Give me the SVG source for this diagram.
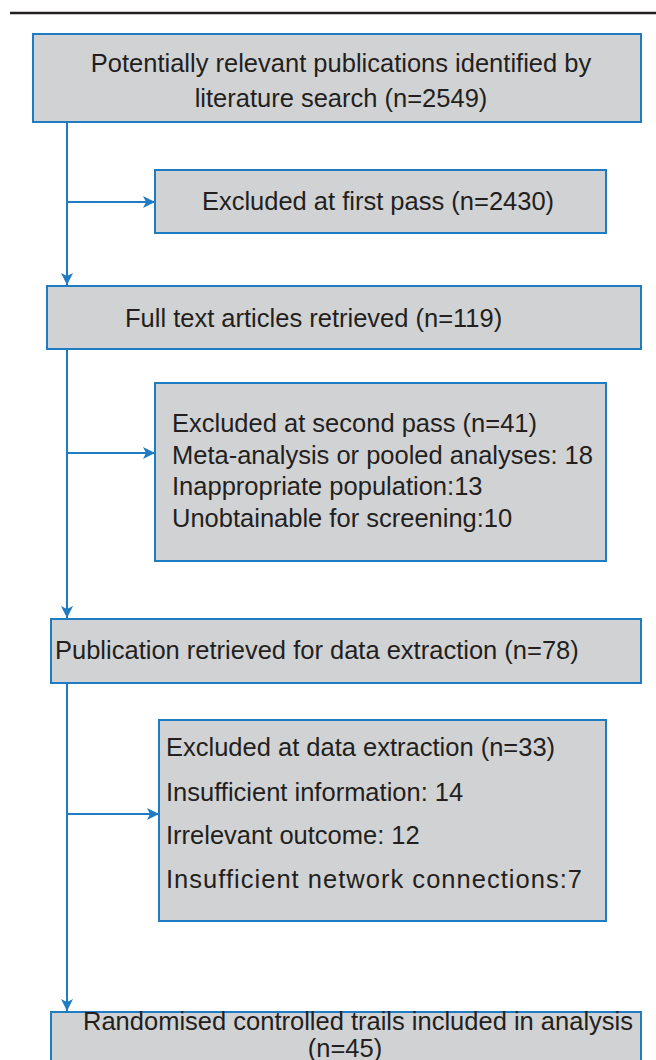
<svg xmlns="http://www.w3.org/2000/svg" width="656" height="1060" viewBox="0 0 656 1060">
<defs>
<style>
.box{fill:#d1d2d4;stroke:#1f7bc2;stroke-width:2}
.t{font-family:"Liberation Sans",Arial,sans-serif;font-size:25.5px;fill:#231f20}
.c{stroke:#1f7bc2;stroke-width:2;fill:none}
</style>
<marker id="ah" viewBox="0 0 12 12" refX="12" refY="6" markerWidth="12" markerHeight="12" markerUnits="userSpaceOnUse" orient="auto">
<path d="M0,0 L12,6 L0,12 L3,6 Z" fill="#1f7bc2"/>
</marker>
</defs>
<rect width="656" height="1060" fill="#ffffff"/>
<line x1="10" y1="13" x2="656" y2="13" stroke="#231f20" stroke-width="2.5"/>
<g id="connectors">
<line class="c" x1="67" y1="122" x2="67" y2="285" marker-end="url(#ah)"/>
<line class="c" x1="67" y1="202" x2="155" y2="202" marker-end="url(#ah)"/>
<line class="c" x1="67" y1="350" x2="67" y2="618" marker-end="url(#ah)"/>
<line class="c" x1="67" y1="453" x2="155" y2="453" marker-end="url(#ah)"/>
<line class="c" x1="67" y1="683" x2="67" y2="1011" marker-end="url(#ah)"/>
<line class="c" x1="67" y1="814" x2="159" y2="814" marker-end="url(#ah)"/>
</g>
<g id="n1">
<rect class="box" x="33" y="34" width="608" height="88"/>
<text class="t" x="341" y="72" text-anchor="middle">Potentially relevant publications identified by</text>
<text class="t" x="341" y="107" text-anchor="middle">literature search (n=2549)</text>
</g>
<g id="n2">
<rect class="box" x="155" y="170" width="451" height="63"/>
<text class="t" x="378" y="210" text-anchor="middle">Excluded at first pass (n=2430)</text>
</g>
<g id="n3">
<rect class="box" x="47" y="286" width="594" height="63"/>
<text class="t" x="125" y="327">Full text articles retrieved (n=119)</text>
</g>
<g id="n4">
<rect class="box" x="155" y="383" width="451" height="178"/>
<text class="t" x="172" y="432">Excluded at second pass (n=41)</text>
<text class="t" x="172" y="464">Meta-analysis or pooled analyses: 18</text>
<text class="t" x="172" y="495">Inappropriate population:13</text>
<text class="t" x="172" y="527">Unobtainable for screening:10</text>
</g>
<g id="n5">
<rect class="box" x="51" y="619" width="590" height="64"/>
<text class="t" x="55" y="659">Publication retrieved for data extraction (n=78)</text>
</g>
<g id="n6">
<rect class="box" x="159" y="720" width="447" height="201"/>
<text class="t" x="166" y="756">Excluded at data extraction (n=33)</text>
<text class="t" x="166" y="801">Insufficient information: 14</text>
<text class="t" x="166" y="844">Irrelevant outcome: 12</text>
<text class="t" x="166" y="888" textLength="416" lengthAdjust="spacing">Insufficient network connections:7</text>
</g>
<g id="n7">
<rect class="box" x="51" y="1012" width="590" height="60"/>
<text class="t" x="358" y="1030" text-anchor="middle">Randomised controlled trails included in analysis</text>
<text class="t" x="345" y="1057" text-anchor="middle">(n=45)</text>
</g>
</svg>
